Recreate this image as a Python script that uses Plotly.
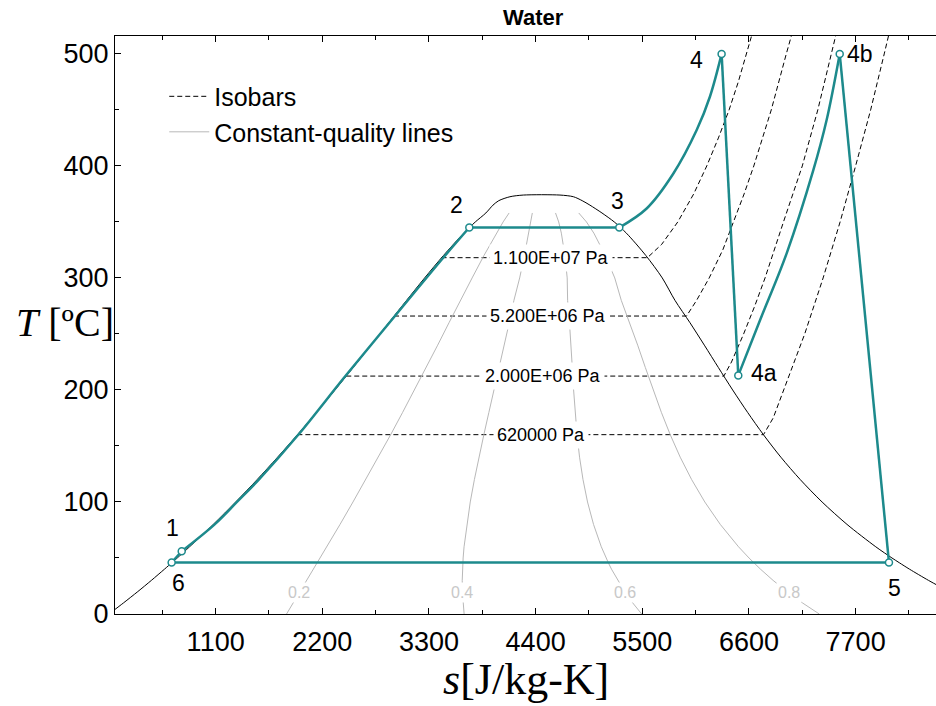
import numpy as np
import plotly.graph_objects as go

# ---------------- data ----------------
# saturation dome of water: T [C], s_f, s_g [J/kg-K]
sat_T  = [0.01, 10, 20, 30, 40, 45.8, 50, 60, 80, 100, 120, 140, 160, 180, 200, 220,
          240, 260, 280, 300, 320, 340, 350, 358, 365, 369, 372.5, 374]
sat_sf = [0, 151, 297, 437, 572, 649, 704, 831, 1076, 1307, 1528, 1739, 1943, 2139, 2331, 2518,
          2702, 2885, 3069, 3255, 3449, 3659, 3778, 3887, 3960, 4020, 4135, 4273]
sat_sg = [9156, 8900, 8666, 8452, 8256, 8150, 8075, 7908, 7611, 7354, 7129, 6929, 6750, 6586, 6432, 6285,
          6140, 5992, 5837, 5706, 5537, 5336, 5211, 5084, 4960, 4880, 4790, 4651]

qualities = [0.2, 0.4, 0.6, 0.8]
quality_T_max = 358

# isobars: pressure label, saturation T, s_f, superheated T [C] and s [J/kg-K]
isobar_labels = ["1.100E+07 Pa", "5.200E+06 Pa", "2.000E+06 Pa", "620000 Pa"]
isobar_Tsat = [318.1, 266.0, 212.4, 160.1]
isobar_sf = [3430, 2940, 2447, 1943]
isobar_T = [
    [318.1, 330, 350, 375, 400, 425, 450, 475, 500, 520],
    [266.0, 280, 300, 325, 350, 375, 400, 450, 500, 520],
    [212.4, 225, 250, 275, 300, 350, 400, 450, 500, 520],
    [160.1, 175, 200, 250, 300, 350, 400, 450, 500, 520],
]
isobar_s = [
    [5553, 5700, 5866, 6030, 6165, 6285, 6395, 6490, 6575, 6640],
    [5956, 6060, 6190, 6330, 6440, 6550, 6650, 6830, 6985, 7050],
    [6341, 6420, 6545, 6660, 6766, 6956, 7150, 7310, 7450, 7505],
    [6750, 6850, 6960, 7175, 7365, 7540, 7700, 7855, 7995, 8050],
]

# Rankine cycle legs
pump_s,      pump_T      = [646, 750], [46, 56]
heating_s,   heating_T   = [750, 1090, 1320, 1545, 1952, 2434, 2949, 3447, 3716], [56, 80, 100, 120, 160, 212, 266, 318, 345]
boiling_s,   boiling_T   = [3716, 5263], [345, 345]
superheat_s, superheat_T = [5263, 5545, 5819, 6061, 6198, 6318], [345, 362, 393, 432, 462, 500]
hp_turb_s,   hp_turb_T   = [6318, 6490], [500, 213]
reheat_s,    reheat_T    = [6490, 6713, 6989, 7263, 7401, 7536], [213, 262, 322, 396, 441, 500]
lp_turb_s,   lp_turb_T   = [7536, 8044], [500, 46]
condense_s,  condense_T  = [8044, 646], [46, 46]

# state points
state_names = ["1", "2", "3", "4", "4a", "4b", "5", "6"]
state_s = [750, 3716, 5263, 6318, 6490, 7536, 8044, 646]
state_T = [56, 345, 345, 500, 213, 500, 46, 46]

x_ticks = [1100, 2200, 3300, 4400, 5500, 6600, 7700]
y_ticks = [0, 100, 200, 300, 400, 500]

# ---------------- styles / positions ----------------
TEAL = "#1d8a8c"
SANS = "Arial, Liberation Sans, sans-serif"
SERIF = "Times New Roman, Liberation Serif, serif"
label_shift = {"1": (-9, 23), "2": (-13, 23), "3": (-2, 27), "4": (-25, -6),
               "4a": (26, 2), "4b": (20, 0), "5": (6, -26), "6": (7, -21)}
isobar_label_s = [4558, 4527, 4476, 4455]
quality_label_T = 19

fig = go.Figure()

# saturation dome
dome_s = sat_sf + sat_sg[::-1]
dome_T = sat_T + sat_T[::-1]
fig.add_trace(go.Scatter(x=dome_s, y=dome_T, mode="lines",
                         line=dict(color="black", width=1, shape="spline", smoothing=0.8),
                         showlegend=False, hoverinfo="skip"))

# isobars (legend entry first)
ps, pt = [], []
for sf, Ts, Tl, sl in zip(isobar_sf, isobar_Tsat, isobar_T, isobar_s):
    ps += [sf] + sl + [None]
    pt += [Ts] + Tl + [None]
fig.add_trace(go.Scatter(x=ps, y=pt, mode="lines", name="Isobars",
                         line=dict(color="black", width=1, dash="5px,3px")))

# constant-quality lines
qs, qt = [], []
for q in qualities:
    for t, sf, sg in zip(sat_T, sat_sf, sat_sg):
        if t <= quality_T_max:
            qs.append(sf + q * (sg - sf))
            qt.append(t)
    qs.append(None)
    qt.append(None)
fig.add_trace(go.Scatter(x=qs, y=qt, mode="lines", name="Constant-quality lines",
                         line=dict(color="#b8b8b8", width=1)))

# cycle legs
legs = [(pump_s, pump_T, "linear"), (heating_s, heating_T, "spline"),
        (boiling_s, boiling_T, "linear"), (superheat_s, superheat_T, "spline"),
        (hp_turb_s, hp_turb_T, "linear"), (reheat_s, reheat_T, "spline"),
        (lp_turb_s, lp_turb_T, "linear"), (condense_s, condense_T, "linear")]
for xs, ys, shp in legs:
    fig.add_trace(go.Scatter(x=xs, y=ys, mode="lines", showlegend=False,
                             line=dict(color=TEAL, width=2.5, shape=shp)))
fig.add_trace(go.Scatter(x=state_s, y=state_T, mode="markers", showlegend=False,
                         marker=dict(symbol="circle", size=7, color="white",
                                     line=dict(color=TEAL, width=1.5))))

ann = []
for n, s, t in zip(state_names, state_s, state_T):
    dx, dy = label_shift[n]
    ann.append(dict(x=s, y=t, text=n, showarrow=False, xshift=dx, yshift=dy,
                    font=dict(family=SANS, size=23, color="black")))
for lab, t, s in zip(isobar_labels, isobar_Tsat, isobar_label_s):
    ann.append(dict(x=s, y=t, text=lab, showarrow=False, bgcolor="white", borderpad=3,
                    font=dict(family=SANS, size=18, color="black")))
sf19 = float(np.interp(quality_label_T, sat_T, sat_sf))
sg19 = float(np.interp(quality_label_T, sat_T, sat_sg))
for q in qualities:
    ann.append(dict(x=sf19 + q * (sg19 - sf19), y=quality_label_T, text=str(q),
                    showarrow=False, bgcolor="white", borderpad=1,
                    font=dict(family=SANS, size=16, color="#c8c8c8")))
ann.append(dict(xref="paper", yref="paper", x=0.5, y=1.0, yanchor="middle", yshift=19,
                xshift=8, text="<b>Water</b>", showarrow=False,
                font=dict(family=SANS, size=22, color="black")))
ann.append(dict(xref="paper", yref="paper", x=0.5, y=0, yanchor="middle", yshift=-65,
                text="<i>s</i>[J/kg-K]", showarrow=False,
                font=dict(family=SERIF, size=44, color="black")))
ann.append(dict(xref="paper", yref="paper", x=0, y=0.505, xanchor="left", yanchor="middle",
                xshift=-101, text="<i>T</i> [ºC]", showarrow=False,
                font=dict(family=SERIF, size=40, color="black")))

fig.update_layout(
    width=936, height=706,
    margin=dict(l=115, r=0, t=36, b=92),
    paper_bgcolor="white", plot_bgcolor="white",
    annotations=ann,
    legend=dict(x=0.06, y=0.935, xanchor="left", yanchor="top", traceorder="normal",
                bgcolor="rgba(0,0,0,0)", font=dict(family=SANS, size=25, color="black"),
                tracegroupgap=0, itemwidth=40),
    xaxis=dict(range=[62, 8529], tickvals=x_ticks, showgrid=False, zeroline=False,
               showline=True, linecolor="black", linewidth=1, mirror="ticks",
               ticks="inside", ticklen=6, tickcolor="black", ticklabelstandoff=4,
               minor=dict(ticks="inside", ticklen=4, dtick=550, tick0=0, tickcolor="black"),
               tickfont=dict(family=SANS, size=27, color="black")),
    yaxis=dict(range=[0, 516], tickvals=y_ticks, showgrid=False, zeroline=False,
               showline=True, linecolor="black", linewidth=1, mirror=False,
               ticks="inside", ticklen=6, tickcolor="black",
               minor=dict(ticks="inside", ticklen=4, dtick=50, tick0=0, tickcolor="black"),
               tickfont=dict(family=SANS, size=27, color="black")),
)

fig.write_html("out.html", config={"displayModeBar": False},
               post_script="document.body.style.margin='0px';")
